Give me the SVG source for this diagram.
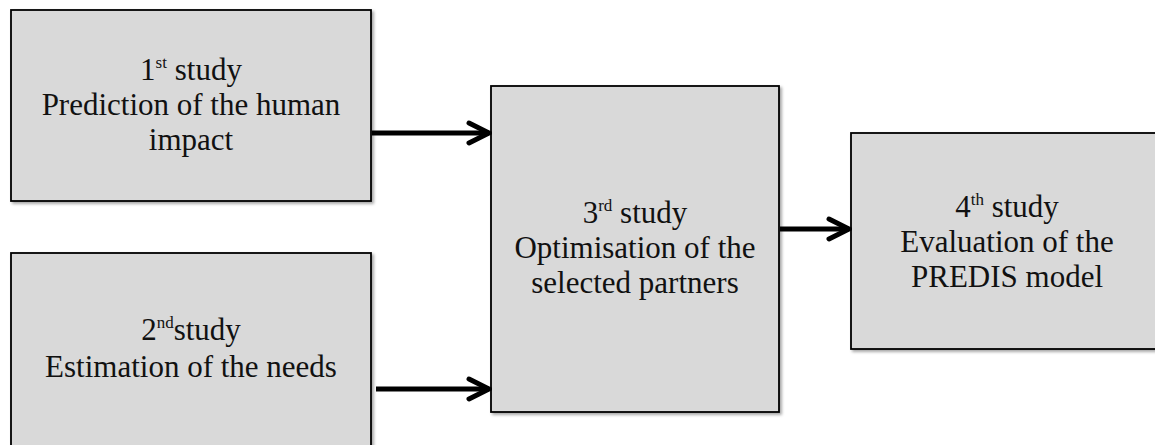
<svg xmlns="http://www.w3.org/2000/svg" width="1155" height="445" viewBox="0 0 1155 445">
<style>
.box{fill:#d9d9d9;stroke:#000;stroke-width:1.8;filter:url(#sh)}
.t{font-family:"Liberation Serif","Times New Roman",serif;font-size:31px;fill:#111;text-anchor:middle}
.sup{font-size:17px}
.conn{stroke:#000;stroke-width:5;fill:none}
</style>
<defs>
<filter id="sh" x="-5%" y="-5%" width="115%" height="115%">
<feDropShadow dx="2" dy="2" stdDeviation="1.5" flood-color="#000" flood-opacity="0.35"/>
</filter>
<marker id="arr" markerUnits="userSpaceOnUse" viewBox="0 0 26 26" refX="23" refY="13" markerWidth="26" markerHeight="26" orient="auto">
<polyline points="3,3 23,13 3,23" fill="none" stroke="#000" stroke-width="5" stroke-linecap="round" stroke-linejoin="miter"/>
</marker>
</defs>
<g id="n1">
<rect class="box" x="11" y="10" width="360" height="191"/>
<text class="t" x="191" y="80">1<tspan class="sup" dy="-12">st</tspan><tspan dy="12"> study</tspan></text>
<text class="t" x="191" y="115">Prediction of the human</text>
<text class="t" x="191" y="150">impact</text>
</g>
<g id="n2">
<rect class="box" x="11" y="253" width="360" height="200"/>
<text class="t" x="191" y="340">2<tspan class="sup" dy="-12">nd</tspan><tspan dy="12">study</tspan></text>
<text class="t" x="191" y="377">Estimation of the needs</text>
</g>
<g id="n3">
<rect class="box" x="491" y="86" width="288" height="326"/>
<text class="t" x="635" y="223">3<tspan class="sup" dy="-12">rd</tspan><tspan dy="12"> study</tspan></text>
<text class="t" x="635" y="258">Optimisation of the</text>
<text class="t" x="635" y="293">selected partners</text>
</g>
<g id="n4">
<rect class="box" x="851" y="133" width="314" height="216"/>
<text class="t" x="1007" y="217">4<tspan class="sup" dy="-12">th</tspan><tspan dy="12"> study</tspan></text>
<text class="t" x="1007" y="252">Evaluation of the</text>
<text class="t" x="1007" y="287">PREDIS model</text>
</g>
<g id="connectors">
<line class="conn" x1="372" y1="133" x2="489" y2="133" marker-end="url(#arr)"/>
<line class="conn" x1="376" y1="389" x2="489" y2="389" marker-end="url(#arr)"/>
<line class="conn" x1="780" y1="229" x2="849" y2="229" marker-end="url(#arr)"/>
</g>
</svg>
